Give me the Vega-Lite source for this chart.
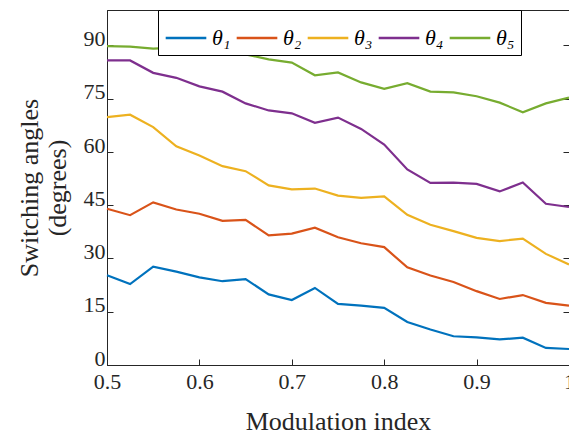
{
  "$schema": "https://vega.github.io/schema/vega-lite/v6.json",
  "width": 462,
  "height": 355,
  "autosize": {"type": "none"},
  "padding": {"left": 107, "top": 10, "right": 0, "bottom": 72},
  "config": {
    "view": {"stroke": "#262626", "strokeWidth": 1},
    "font": "Liberation Serif",
    "axis": {
      "grid": false,
      "domainColor": "#262626",
      "tickColor": "#262626",
      "labelColor": "#262626",
      "titleColor": "#262626",
      "labelFont": "Liberation Serif",
      "titleFont": "Liberation Serif",
      "labelFontSize": 22,
      "titleFontSize": 26,
      "titleFontWeight": "normal",
      "tickSize": -6,
      "labelPadding": 10,
      "labelFlush": false
    },
    "legend": {
      "orient": "none",
      "legendX": 51,
      "legendY": 0,
      "direction": "horizontal",
      "symbolType": "stroke",
      "symbolSize": 1650,
      "symbolStrokeWidth": 2.5,
      "labelFont": "Liberation Serif",
      "labelFontStyle": "italic",
      "labelFontSize": 22,
      "labelColor": "#000000",
      "labelOffset": 4,
      "columnPadding": 0,
      "padding": 6,
      "strokeColor": "#000000",
      "fillColor": "#ffffff"
    }
  },
  "data": {"values": [
    {"m": 0.5, "s": "θ₁", "v": 25.3}, {"m": 0.525, "s": "θ₁", "v": 22.8}, {"m": 0.55, "s": "θ₁", "v": 27.7}, {"m": 0.575, "s": "θ₁", "v": 26.3}, {"m": 0.6, "s": "θ₁", "v": 24.7}, {"m": 0.625, "s": "θ₁", "v": 23.6}, {"m": 0.65, "s": "θ₁", "v": 24.2}, {"m": 0.675, "s": "θ₁", "v": 19.9}, {"m": 0.7, "s": "θ₁", "v": 18.3}, {"m": 0.725, "s": "θ₁", "v": 21.7}, {"m": 0.75, "s": "θ₁", "v": 17.2}, {"m": 0.775, "s": "θ₁", "v": 16.7}, {"m": 0.8, "s": "θ₁", "v": 16.1}, {"m": 0.825, "s": "θ₁", "v": 12.1}, {"m": 0.85, "s": "θ₁", "v": 10.0}, {"m": 0.875, "s": "θ₁", "v": 8.1}, {"m": 0.9, "s": "θ₁", "v": 7.8}, {"m": 0.925, "s": "θ₁", "v": 7.2}, {"m": 0.95, "s": "θ₁", "v": 7.7}, {"m": 0.975, "s": "θ₁", "v": 4.8}, {"m": 1.0, "s": "θ₁", "v": 4.5},
    {"m": 0.5, "s": "θ₂", "v": 44.0}, {"m": 0.525, "s": "θ₂", "v": 42.2}, {"m": 0.55, "s": "θ₂", "v": 45.8}, {"m": 0.575, "s": "θ₂", "v": 43.8}, {"m": 0.6, "s": "θ₂", "v": 42.6}, {"m": 0.625, "s": "θ₂", "v": 40.6}, {"m": 0.65, "s": "θ₂", "v": 40.9}, {"m": 0.675, "s": "θ₂", "v": 36.5}, {"m": 0.7, "s": "θ₂", "v": 37.0}, {"m": 0.725, "s": "θ₂", "v": 38.7}, {"m": 0.75, "s": "θ₂", "v": 36.0}, {"m": 0.775, "s": "θ₂", "v": 34.3}, {"m": 0.8, "s": "θ₂", "v": 33.2}, {"m": 0.825, "s": "θ₂", "v": 27.5}, {"m": 0.85, "s": "θ₂", "v": 25.2}, {"m": 0.875, "s": "θ₂", "v": 23.4}, {"m": 0.9, "s": "θ₂", "v": 20.8}, {"m": 0.925, "s": "θ₂", "v": 18.6}, {"m": 0.95, "s": "θ₂", "v": 19.7}, {"m": 0.975, "s": "θ₂", "v": 17.5}, {"m": 1.0, "s": "θ₂", "v": 16.7},
    {"m": 0.5, "s": "θ₃", "v": 69.8}, {"m": 0.525, "s": "θ₃", "v": 70.5}, {"m": 0.55, "s": "θ₃", "v": 67.0}, {"m": 0.575, "s": "θ₃", "v": 61.6}, {"m": 0.6, "s": "θ₃", "v": 59.0}, {"m": 0.625, "s": "θ₃", "v": 56.0}, {"m": 0.65, "s": "θ₃", "v": 54.6}, {"m": 0.675, "s": "θ₃", "v": 50.6}, {"m": 0.7, "s": "θ₃", "v": 49.5}, {"m": 0.725, "s": "θ₃", "v": 49.7}, {"m": 0.75, "s": "θ₃", "v": 47.7}, {"m": 0.775, "s": "θ₃", "v": 47.1}, {"m": 0.8, "s": "θ₃", "v": 47.5}, {"m": 0.825, "s": "θ₃", "v": 42.3}, {"m": 0.85, "s": "θ₃", "v": 39.5}, {"m": 0.875, "s": "θ₃", "v": 37.7}, {"m": 0.9, "s": "θ₃", "v": 35.8}, {"m": 0.925, "s": "θ₃", "v": 34.9}, {"m": 0.95, "s": "θ₃", "v": 35.6}, {"m": 0.975, "s": "θ₃", "v": 31.3}, {"m": 1.0, "s": "θ₃", "v": 28.3},
    {"m": 0.5, "s": "θ₄", "v": 85.8}, {"m": 0.525, "s": "θ₄", "v": 85.8}, {"m": 0.55, "s": "θ₄", "v": 82.3}, {"m": 0.575, "s": "θ₄", "v": 80.9}, {"m": 0.6, "s": "θ₄", "v": 78.5}, {"m": 0.625, "s": "θ₄", "v": 77.0}, {"m": 0.65, "s": "θ₄", "v": 73.7}, {"m": 0.675, "s": "θ₄", "v": 71.7}, {"m": 0.7, "s": "θ₄", "v": 70.9}, {"m": 0.725, "s": "θ₄", "v": 68.2}, {"m": 0.75, "s": "θ₄", "v": 69.7}, {"m": 0.775, "s": "θ₄", "v": 66.5}, {"m": 0.8, "s": "θ₄", "v": 62.1}, {"m": 0.825, "s": "θ₄", "v": 55.1}, {"m": 0.85, "s": "θ₄", "v": 51.3}, {"m": 0.875, "s": "θ₄", "v": 51.4}, {"m": 0.9, "s": "θ₄", "v": 51.0}, {"m": 0.925, "s": "θ₄", "v": 48.9}, {"m": 0.95, "s": "θ₄", "v": 51.4}, {"m": 0.975, "s": "θ₄", "v": 45.4}, {"m": 1.0, "s": "θ₄", "v": 44.5},
    {"m": 0.5, "s": "θ₅", "v": 89.8}, {"m": 0.525, "s": "θ₅", "v": 89.7}, {"m": 0.55, "s": "θ₅", "v": 89.1}, {"m": 0.575, "s": "θ₅", "v": 89.4}, {"m": 0.6, "s": "θ₅", "v": 89.1}, {"m": 0.625, "s": "θ₅", "v": 88.4}, {"m": 0.65, "s": "θ₅", "v": 87.5}, {"m": 0.675, "s": "θ₅", "v": 86.1}, {"m": 0.7, "s": "θ₅", "v": 85.2}, {"m": 0.725, "s": "θ₅", "v": 81.6}, {"m": 0.75, "s": "θ₅", "v": 82.4}, {"m": 0.775, "s": "θ₅", "v": 79.6}, {"m": 0.8, "s": "θ₅", "v": 77.8}, {"m": 0.825, "s": "θ₅", "v": 79.4}, {"m": 0.85, "s": "θ₅", "v": 77.0}, {"m": 0.875, "s": "θ₅", "v": 76.8}, {"m": 0.9, "s": "θ₅", "v": 75.7}, {"m": 0.925, "s": "θ₅", "v": 73.9}, {"m": 0.95, "s": "θ₅", "v": 71.2}, {"m": 0.975, "s": "θ₅", "v": 73.7}, {"m": 1.0, "s": "θ₅", "v": 75.3}
  ]},
  "layer": [
    {
      "mark": {"type": "line", "strokeWidth": 2.2},
      "encoding": {
        "x": {"field": "m", "type": "quantitative",
              "scale": {"domain": [0.5, 1], "nice": false, "zero": false},
              "axis": {"values": [0.5, 0.6, 0.7, 0.8, 0.9, 1], "labelExpr": "datum.value == 1 ? '1' : format(datum.value, '.1f')", "labelPadding": 12, "title": "Modulation index", "titlePadding": 16}},
        "y": {"field": "v", "type": "quantitative",
              "scale": {"domain": [0, 100], "nice": false},
              "axis": {"values": [0, 15, 30, 45, 60, 75, 90], "labelBaseline": "alphabetic", "labelOffset": 0, "labelPadding": 8, "title": ["Switching angles", "(degrees)"], "titlePadding": 13}},
        "color": {"field": "s", "type": "nominal",
                  "scale": {"domain": ["θ₁", "θ₂", "θ₃", "θ₄", "θ₅"], "range": ["#0072BD", "#D95319", "#EDB120", "#7E2F8E", "#77AC30"]},
                  "legend": {"title": null}}
      }
    },
    {
      "mark": {"type": "point", "opacity": 0},
      "encoding": {
        "x": {"field": "m", "type": "quantitative", "axis": {"orient": "top", "values": [0.5, 0.6, 0.7, 0.8, 0.9, 1], "labels": false, "title": null, "domain": false}},
        "y": {"field": "v", "type": "quantitative", "axis": {"orient": "right", "values": [0, 15, 30, 45, 60, 75, 90], "labels": false, "title": null, "domain": false}}
      }
    }
  ],
  "resolve": {"axis": {"x": "independent", "y": "independent"}}
}
